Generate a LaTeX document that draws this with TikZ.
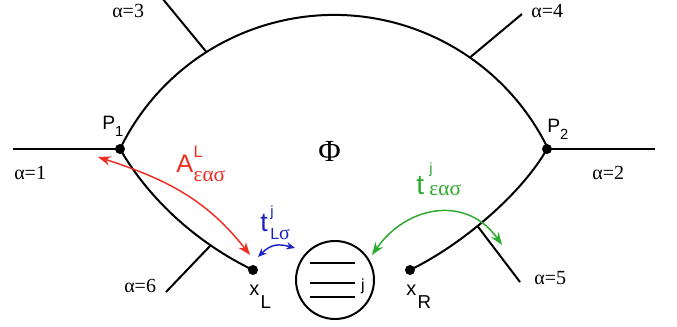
\documentclass[tikz,border=0pt]{standalone}
\usepackage{fontspec}
\setmainfont{Liberation Sans}
\newfontfamily\serifg{Liberation Serif}
\usetikzlibrary{arrows.meta}
\definecolor{myred}{RGB}{240,45,35}
\definecolor{myblue}{RGB}{25,35,195}
\definecolor{mygreen}{RGB}{45,170,45}
\newcommand\fs[1]{\fontsize{#1}{#1}\selectfont}
% main, gap, sup raise, sup, sub raise, sub
\newcommand\tens[6]{{#1}\hspace{#2}\rlap{\raisebox{#3}{#4}}\raisebox{#5}{#6}}
\tikzset{
  wire/.style={line width=1.5pt},
  dot/.style={circle,fill,inner sep=0pt,minimum size=7.5pt},
  alab/.style={font=\serifg\fs{15},anchor=base west,inner sep=0pt},
  plab/.style={anchor=base west,inner sep=0pt},
  harrow/.style={line width=1.1pt,{Stealth[length=9.5pt,width=7pt]}-{Stealth[length=9.5pt,width=7pt]}},
  sarrow/.style={line width=1.1pt,{Stealth[length=6.5pt,width=5.5pt]}-{Stealth[length=6.5pt,width=5.5pt]}},
}
\begin{document}
\begin{tikzpicture}[x=0.75pt,y=0.75pt]
\useasboundingbox (0,0) rectangle (677,327);
% junction points
\node[dot] (P1) at (120,178) {};
\node[dot] (P2) at (547,178) {};
\node[dot] (xL) at (253,57) {};
\node[dot] (xR) at (410,57) {};
% outer line ends
\coordinate (e1) at (13,178);
\coordinate (e2) at (655,178);
\coordinate (e3) at (162,329);
\coordinate (e4) at (522,313);
\coordinate (e5) at (520,45);
\coordinate (e6) at (166,35);
\coordinate (a3) at (206.5,274.9);
\coordinate (a4) at (469.8,269.4);
% main graph
\draw[wire] (P1.center) arc[start angle=154.1, end angle=25.9, radius=238];
\draw[wire] (P1.center) .. controls (150,126) and (199,83) .. (xL.center)
   coordinate[pos=0.73] (a6);
\draw[wire] (P2.center) .. controls (522.4,134.5) and (463.9,83.3) .. (xR.center)
   coordinate[pos=0.58] (a5);
\draw[wire] (e1) -- (P1.center);
\draw[wire] (P2.center) -- (e2);
\draw[wire] (a3) -- (e3);
\draw[wire] (a4) -- (e4);
\draw[wire] (a5) -- (e5);
\draw[wire] (a6) -- (e6);
% quantum dot
\node[draw,circle,line width=1.5pt,minimum size=58.5pt,inner sep=0pt] (C) at (335,47) {};
\draw[line width=0.9pt] (310,64) -- (355,64);
\draw[line width=0.9pt] (310,44) -- (355,44);
\draw[line width=0.9pt] (310,30) -- (355,30);
\node[font=\fs{12}] (jl) at (363,41) {j};
% labels
\node[alab] (l1) at (14,147) {α=1};
\node[alab] (l2) at (592,147) {α=2};
\node[alab] (l3) at (112,309) {α=3};
\node[alab] (l4) at (531,309) {α=4};
\node[alab] (l5) at (534,42) {α=5};
\node[alab] (l6) at (124,34) {α=6};
\node[plab] (p1l) at (102,197) {\fs{14.5}P\raisebox{-5.25pt}{\fs{11}1}};
\node[plab] (p2l) at (547,194) {\fs{14.5}P\raisebox{-5.25pt}{\fs{11}2}};
\node[plab] (xll) at (249,31) {\fs{15}x\hspace{1pt}\raisebox{-9.75pt}{\fs{14}L}};
\node[plab] (xrl) at (406,31) {\fs{15}x\hspace{1pt}\raisebox{-9.75pt}{\fs{14}R}};
\node[anchor=base,inner sep=0pt,font=\serifg\fs{23}] (phi) at (329.5,165) {Φ};
% hopping arrows
\coordinate (rs) at (98,170);
\coordinate (re) at (250,72);
\coordinate (bs) at (258,70);
\coordinate (be) at (295,79);
\coordinate (gs) at (372,72);
\coordinate (ge) at (502,82);
\draw[harrow,myred] (rs) to[out=-18,in=128] (re);
\draw[sarrow,myblue] (bs) to[out=45,in=165,looseness=1.2] (be);
\draw[harrow,mygreen] (gs) to[out=55,in=125,looseness=1.2] (ge);
\node[plab,text=myred] (Al) at (176,154)
  {\tens{\fs{19}A}{0.3pt}{11.5pt}{\fs{12.5}L}{-6.75pt}{\serifg\fs{16}εασ}};
\node[plab,text=mygreen] (tg) at (416,132)
  {\tens{\fs{21}t}{4pt}{15.75pt}{\fs{11}j}{-0.75pt}{\serifg\fs{16}εασ}};
\node[plab,text=myblue] (tb) at (260,95)
  {\tens{\fs{20}t}{2pt}{11.25pt}{\fs{11}j}{-6pt}{\fs{12}L\serifg\fs{15}σ}};
\end{tikzpicture}
\end{document}
